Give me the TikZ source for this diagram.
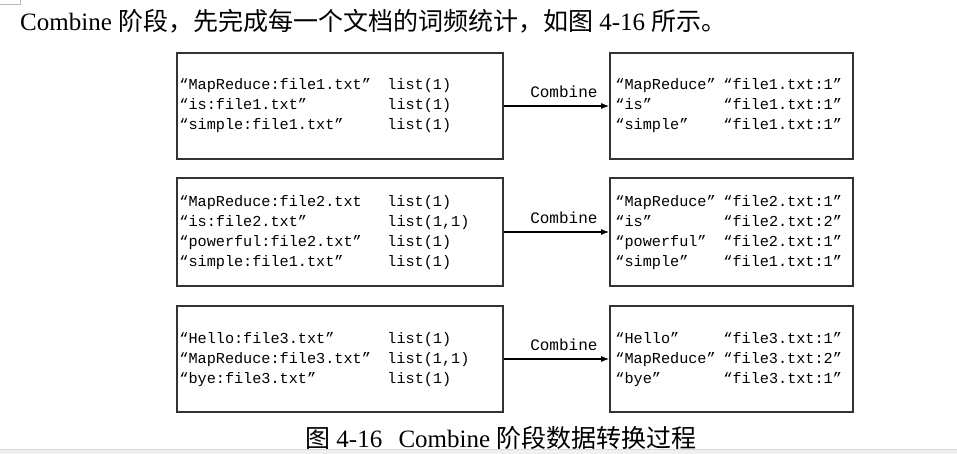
\documentclass[tikz,border=0pt]{standalone}
\usepackage{fontspec}
\setmainfont{Liberation Serif}
\setmonofont{Liberation Mono}
\newfontfamily\cjk{Noto Sans CJK SC}
\usetikzlibrary{arrows.meta}
\definecolor{boxline}{HTML}{333333}
\tikzset{
  inbox/.style={draw=boxline, line width=1.6pt, minimum width=326pt, minimum height=106pt, inner sep=0pt},
  outbox/.style={inbox, minimum width=243pt},
  pairs/.style={anchor=west, inner sep=0pt, font=\fontsize{15.2}{20}\selectfont\ttfamily},
  flow/.style={draw=black, line width=1.3pt, -{Latex[length=8pt,width=6pt]}},
  flowlabel/.style={above=4pt, pos=0.57, font=\fontsize{16}{19}\selectfont\ttfamily},
  prose/.style={anchor=base west, inner sep=0pt, font=\fontsize{25}{30}\selectfont}
}
\begin{document}
\begin{tikzpicture}[x=1pt, y=-1pt]
\useasboundingbox (0,0) rectangle (957,454);
\fill[white] (0,0) rectangle (957,454);
% page corner
\draw[gray!55, line width=0.8pt] (0,4) -- (20,4) -- (20,0);
\node[prose] (intro) at (20,31) {Combine {\cjk 阶段，先完成每一个文档的词频统计，如图} 4-16 {\cjk 所示。}};
% file1
\node[inbox] (in1) at (340,106) {};
\node[outbox] (out1) at (731.5,106) {};
\node[pairs] (in1txt) at ([xshift=3pt]in1.west) {\begin{tabular}{@{}p{208pt}@{}l@{}}
“MapReduce:file1.txt” & list(1)\\
“is:file1.txt” & list(1)\\
“simple:file1.txt” & list(1)
\end{tabular}};
\node[pairs] (out1txt) at ([xshift=6pt]out1.west) {\begin{tabular}{@{}p{108pt}@{}l@{}}
“MapReduce” & “file1.txt:1”\\
“is” & “file1.txt:1”\\
“simple” & “file1.txt:1”
\end{tabular}};
\draw[flow] (in1) -- (out1) node[flowlabel] (cb1) {Combine};
% file2
\node[inbox, minimum height=108pt] (in2) at (340,232) {};
\node[outbox, minimum height=108pt] (out2) at (731.5,232) {};
\node[pairs] (in2txt) at ([xshift=3pt]in2.west) {\begin{tabular}{@{}p{208pt}@{}l@{}}
“MapReduce:file2.txt & list(1)\\
“is:file2.txt” & list(1,1)\\
“powerful:file2.txt” & list(1)\\
“simple:file1.txt” & list(1)
\end{tabular}};
\node[pairs] (out2txt) at ([xshift=6pt]out2.west) {\begin{tabular}{@{}p{108pt}@{}l@{}}
“MapReduce” & “file2.txt:1”\\
“is” & “file2.txt:2”\\
“powerful” & “file2.txt:1”\\
“simple” & “file1.txt:1”
\end{tabular}};
\draw[flow] (in2) -- (out2) node[flowlabel] (cb2) {Combine};
% file3
\node[inbox] (in3) at (340,359) {};
\node[outbox] (out3) at (731.5,359) {};
\node[pairs] (in3txt) at ([xshift=3pt]in3.west) {\begin{tabular}{@{}p{208pt}@{}l@{}}
“Hello:file3.txt” & list(1)\\
“MapReduce:file3.txt” & list(1,1)\\
“bye:file3.txt” & list(1)
\end{tabular}};
\node[pairs] (out3txt) at ([xshift=6pt]out3.west) {\begin{tabular}{@{}p{108pt}@{}l@{}}
“Hello” & “file3.txt:1”\\
“MapReduce” & “file3.txt:2”\\
“bye” & “file3.txt:1”
\end{tabular}};
\draw[flow] (in3) -- (out3) node[flowlabel] (cb3) {Combine};
% caption, cut by the screen edge
\node[prose] (caption) at (305,447) {{\cjk 图} 4-16\hspace{10pt} Combine {\cjk 阶段数据转换过程}};
\fill[gray!12] (0,449) rectangle (957,454);
\draw[gray!30, line width=0.6pt] (0,449) -- (957,449);
\end{tikzpicture}
\end{document}
